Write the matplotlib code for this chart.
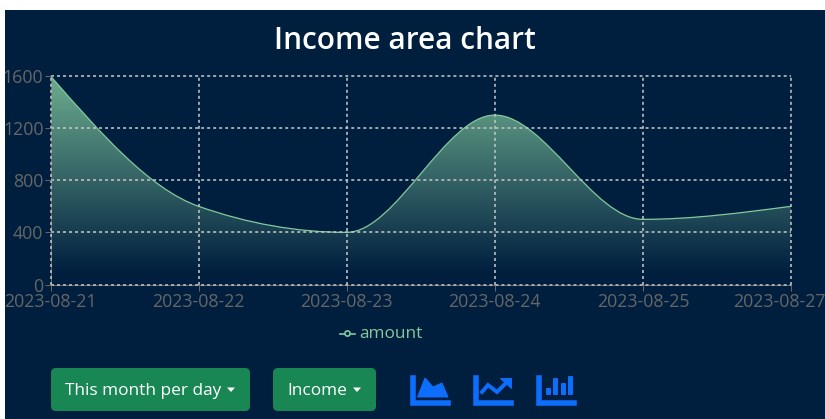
import numpy as np
import matplotlib
matplotlib.use('Agg')
import matplotlib.pyplot as plt
from matplotlib.path import Path
from matplotlib.patches import PathPatch, FancyBboxPatch, Polygon, Rectangle, Circle
from matplotlib.colors import LinearSegmentedColormap
from matplotlib.transforms import ScaledTranslation

# data
dates = ['2023-08-21', '2023-08-22', '2023-08-23', '2023-08-24', '2023-08-25', '2023-08-27']
amount = [1600, 600, 400, 1300, 500, 600]
y_ticks = [0, 400, 800, 1200, 1600]

W, H = 825, 419
BG = '#001f3f'
GREEN = '#82ca9d'
GRAY = '#666666'
BLUE = '#0d6efd'
BTN = '#198754'

plt.rcParams['font.family'] = ['Open Sans', 'DejaVu Sans']


def monotone_path(xs, ys):
    # same curve as d3 curveMonotoneX
    xs = np.array(xs, dtype=float)
    ys = np.array(ys, dtype=float)
    h = np.diff(xs)
    s = np.diff(ys) / h
    m = np.zeros(len(xs))
    for i in range(1, len(xs) - 1):
        if s[i - 1] * s[i] > 0:
            p = (s[i - 1] * h[i] + s[i] * h[i - 1]) / (h[i - 1] + h[i])
            m[i] = (np.sign(s[i - 1]) + np.sign(s[i])) * min(abs(s[i - 1]), abs(s[i]), 0.5 * abs(p))
    m[0] = (3 * s[0] - m[1]) / 2
    m[-1] = (3 * s[-1] - m[-2]) / 2
    verts = [(xs[0], ys[0])]
    codes = [Path.MOVETO]
    for i in range(len(h)):
        d = h[i] / 3
        verts += [(xs[i] + d, ys[i] + m[i] * d), (xs[i + 1] - d, ys[i + 1] - m[i + 1] * d), (xs[i + 1], ys[i + 1])]
        codes += [Path.CURVE4] * 3
    return verts, codes


fig = plt.figure(figsize=(W / 100, H / 100), dpi=100, facecolor='white')

# overlay in pixel coordinates for the page parts (background, buttons, icons)
page = fig.add_axes([0, 0, 1, 1], zorder=0)
page.set_xlim(0, W)
page.set_ylim(H, 0)
page.axis('off')
page.add_patch(Rectangle((5, 10), W - 5, H - 10, color=BG, lw=0))

# chart
left, right, top, bottom = 50.5, 791, 76, 284.5
ax = fig.add_axes([left / W, 1 - bottom / H, (right - left) / W, (bottom - top) / H], zorder=1)
ax.patch.set_alpha(0)
x = np.arange(len(dates))
ax.set_xlim(0, len(dates) - 1)
ax.set_ylim(0, 1600)

verts, codes = monotone_path(x, amount)

# fill with vertical gradient, clipped under the curve
cmap = LinearSegmentedColormap.from_list('fade', [(0, (0.51, 0.79, 0.62, 0.0)), (0.05, (0.51, 0.79, 0.62, 0.0)),
                                                  (0.95, (0.51, 0.79, 0.62, 0.8)), (1, (0.51, 0.79, 0.62, 0.8))])
grad = np.linspace(0, 1, 256).reshape(-1, 1)
img = ax.imshow(grad, origin='lower', extent=[0, len(dates) - 1, 0, 1600], aspect='auto', cmap=cmap,
                vmin=0, vmax=1, zorder=1, interpolation='bilinear')
area = Path(verts + [(x[-1], 0), (x[0], 0), (x[0], amount[0])],
            codes + [Path.LINETO, Path.LINETO, Path.CLOSEPOLY])
img.set_clip_path(PathPatch(area, transform=ax.transData))

ax.add_patch(PathPatch(Path(verts, codes), fc='none', ec=GREEN, lw=0.9, zorder=2, clip_on=False))

ax.set_xticks(x)
ax.set_xticklabels(dates)
ax.set_yticks(y_ticks)
ax.tick_params(axis='both', colors=GRAY, length=4.3, width=0.75, labelsize=12.8)
ax.tick_params(axis='x', pad=1.5)
ax.tick_params(axis='y', pad=0.8)
ax.grid(True, color='#c4c4c4', lw=1.15, linestyle=(0, (1.88, 1.88)))
ax.set_axisbelow(False)
for gl in ax.get_xgridlines() + ax.get_ygridlines():
    gl.set_clip_on(False)
for side, spine in ax.spines.items():
    spine.set_visible(side in ('left', 'bottom'))
    spine.set_color(GRAY)
    spine.set_linewidth(0.75)
    spine.set_zorder(1.5)

# last date label is pushed inside the page, like in the original
last = ax.get_xticklabels()[-1]
last.set_transform(last.get_transform() + ScaledTranslation(-12 / 100, 0, fig.dpi_scale_trans))

fig.text(404.5 / W, 1 - 41 / H, 'Income area chart', color='white', fontsize=21.4, fontweight='semibold',
         ha='center', va='center', zorder=5)

# legend
page.plot([340, 355], [333.5, 333.5], color=GREEN, lw=1.2)
page.add_patch(Circle((347.5, 333.5), 2.6, fc=BG, ec=GREEN, lw=1.2, zorder=3))
page.text(359.5, 334, 'amount', color=GREEN, fontsize=12.4, va='center', ha='left')

# buttons
for x0, x1, label, tx, cx in [(51, 250, 'This month per day', 65, 231), (273, 376, 'Income', 287.5, 357)]:
    page.add_patch(FancyBboxPatch((x0 + 5, 368 + 5), x1 - x0 - 10, 43 - 10, boxstyle='round,pad=5,rounding_size=5',
                                  fc=BTN, ec='none'))
    page.text(tx, 391, label, color='white', fontsize=12.4, va='center', ha='left')
    page.add_patch(Polygon([(cx - 4, 387.5), (cx + 4, 387.5), (cx, 392)], fc='white', ec='none'))

# icons
for ix in (410, 473, 536):
    page.add_patch(Polygon([(ix, 375), (ix + 5, 375), (ix + 5, 400), (ix + 40, 400), (ix + 40, 405), (ix, 405)],
                           fc=BLUE, ec=BLUE, lw=0.4, joinstyle='round'))
page.add_patch(Polygon([(417.5, 397), (425, 378), (433, 387), (442, 383), (448, 397)], fc=BLUE, ec=BLUE, lw=0.7))
page.plot([482, 488, 497, 507], [392, 385, 392, 382], color=BLUE, lw=2.8, solid_joinstyle='miter')
page.add_patch(Polygon([(500, 378), (511, 378), (511, 388)], fc=BLUE, ec=BLUE, lw=0.7))
for bx, by in [(546, 388), (553, 378), (561, 383), (568, 376)]:
    page.add_patch(FancyBboxPatch((bx, by), 5, 395 - by, boxstyle='round,pad=0,rounding_size=1', fc=BLUE, ec='none'))

fig.savefig('out.png', dpi=100, facecolor='white')
